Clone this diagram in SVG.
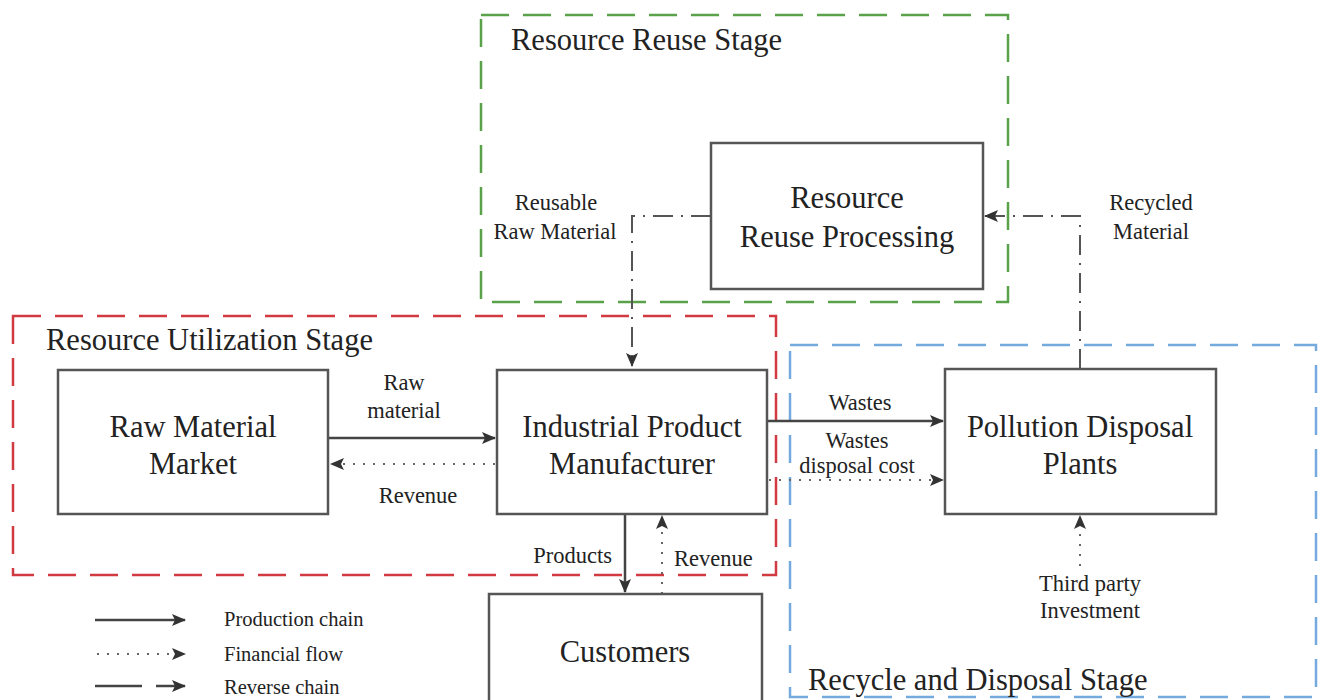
<svg xmlns="http://www.w3.org/2000/svg" width="1320" height="700" viewBox="0 0 1320 700">
<style>
text{font-family:"Liberation Serif","Times New Roman",serif;fill:#222}
.t{font-size:30.5px}
.s{font-size:22.5px}
.l{font-size:20.5px}
.node{fill:#fff;stroke:#555;stroke-width:2.5}
.stage{fill:none;stroke-width:2.5;stroke-dasharray:28 14}
.sol{fill:none;stroke:#444;stroke-width:2.5}
.dot{fill:none;stroke:#666;stroke-width:2;stroke-dasharray:2 8}
.dd{fill:none;stroke:#555;stroke-width:2;stroke-dasharray:20 8 2 8}
</style>
<defs>
<marker id="ah" viewBox="0 0 14 12" refX="13" refY="6" markerWidth="14" markerHeight="12" markerUnits="userSpaceOnUse" orient="auto">
<path d="M0,0 L14,6 L0,12 L3,6 Z" fill="#333"/>
</marker>
</defs>
<g id="stages">
<rect class="stage" x="481" y="15" width="527" height="287" stroke="#5aa24a"/>
<text class="t" x="511" y="50">Resource Reuse Stage</text>
<rect class="stage" x="13" y="316" width="763" height="259" stroke="#d03a40"/>
<text class="t" x="46" y="350">Resource Utilization Stage</text>
<rect class="stage" x="790" y="345" width="526" height="352" stroke="#74aade"/>
<text class="t" x="808" y="690">Recycle and Disposal Stage</text>
</g>
<g id="connectors">
<path class="dd" d="M711,216 H632 V366" marker-end="url(#ah)"/>
<path class="dd" d="M1080,369 V216 H985" marker-end="url(#ah)"/>
<path class="sol" d="M328,438 H495" marker-end="url(#ah)"/>
<path class="dot" d="M495,464 H331" marker-end="url(#ah)"/>
<path class="sol" d="M767,421 H943" marker-end="url(#ah)"/>
<path class="dot" d="M769,480 H943" marker-end="url(#ah)"/>
<path class="dot" d="M1080,566 V516" marker-end="url(#ah)"/>
<path class="sol" d="M625,514 V592" marker-end="url(#ah)"/>
<path class="dot" d="M662,594 V516" marker-end="url(#ah)"/>
<text class="s" text-anchor="middle" x="556" y="210">Reusable</text>
<text class="s" text-anchor="middle" x="555" y="239">Raw Material</text>
<text class="s" text-anchor="middle" x="1151" y="210">Recycled</text>
<text class="s" text-anchor="middle" x="1151" y="239">Material</text>
<text class="s" text-anchor="middle" x="404" y="390">Raw</text>
<text class="s" text-anchor="middle" x="404" y="418">material</text>
<text class="s" text-anchor="middle" x="418" y="503">Revenue</text>
<text class="s" text-anchor="middle" x="860" y="410">Wastes</text>
<text class="s" text-anchor="middle" x="857" y="448">Wastes</text>
<text class="s" text-anchor="middle" x="857" y="473">disposal cost</text>
<text class="s" text-anchor="middle" x="1090" y="591">Third party</text>
<text class="s" text-anchor="middle" x="1090" y="618">Investment</text>
<text class="s" text-anchor="end" x="612" y="563">Products</text>
<text class="s" x="674" y="566">Revenue</text>
</g>
<g id="reuse-processing">
<rect class="node" x="711" y="143" width="272" height="146"/>
<text class="t" text-anchor="middle" x="847" y="208">Resource</text>
<text class="t" text-anchor="middle" x="847" y="247">Reuse Processing</text>
</g>
<g id="raw-material-market">
<rect class="node" x="58" y="370" width="270" height="144"/>
<text class="t" text-anchor="middle" x="193" y="437">Raw Material</text>
<text class="t" text-anchor="middle" x="193" y="474">Market</text>
</g>
<g id="manufacturer">
<rect class="node" x="497" y="370" width="270" height="144"/>
<text class="t" text-anchor="middle" x="632" y="437">Industrial Product</text>
<text class="t" text-anchor="middle" x="632" y="474">Manufacturer</text>
</g>
<g id="pollution-plants">
<rect class="node" x="945" y="369" width="271" height="145"/>
<text class="t" text-anchor="middle" x="1080" y="437">Pollution Disposal</text>
<text class="t" text-anchor="middle" x="1080" y="474">Plants</text>
</g>
<g id="customers">
<rect class="node" x="489" y="594" width="273" height="120"/>
<text class="t" text-anchor="middle" x="625" y="662">Customers</text>
</g>
<g id="legend">
<path class="sol" d="M95,620 H185" marker-end="url(#ah)"/>
<path class="dot" d="M97,654 H185" marker-end="url(#ah)"/>
<path class="sol" d="M95,686 H142 M156,686 H185" marker-end="url(#ah)"/>
<text class="l" x="224" y="626">Production chain</text>
<text class="l" x="224" y="661">Financial flow</text>
<text class="l" x="224" y="694">Reverse chain</text>
</g>
</svg>
